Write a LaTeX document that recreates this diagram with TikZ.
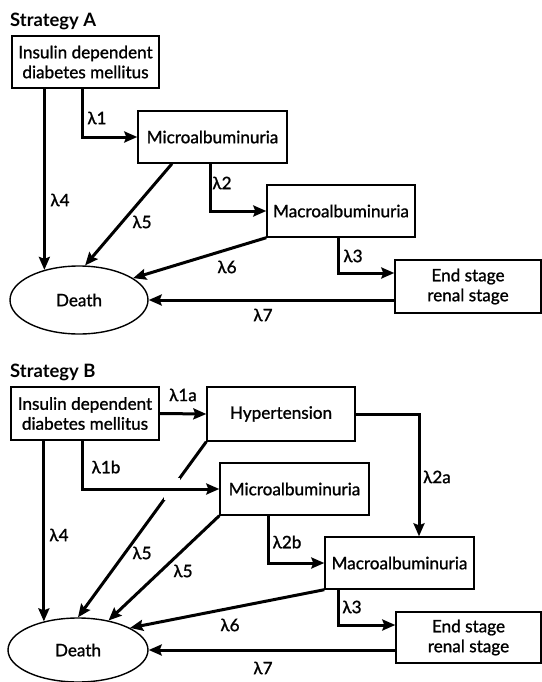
\documentclass[tikz,border=0pt]{standalone}
\usepackage{fontspec}
\setmainfont{Lato}
\newfontfamily\medfont{Lato}[FakeBold=1.2]
\usetikzlibrary{arrows.meta,shapes.geometric,intersections}
\begin{document}
\begin{tikzpicture}[x=1bp,y=-1bp,
  box/.style={draw,line width=1.4bp,inner sep=0pt,align=center,font=\medfont\fontsize{17.2}{20}\selectfont},
  deathnode/.style={draw,ellipse,line width=1.4bp,inner sep=0pt,font=\medfont\fontsize{17.2}{20}\selectfont},
  arr/.style={line width=3bp,-{Stealth[length=13bp,width=11bp,inset=2bp]}},
  lab/.style={font=\medfont\fontsize{17.2}{20}\selectfont,inner sep=0pt},
  ttl/.style={font=\bfseries\fontsize{18.5}{20}\selectfont,anchor=base west,inner sep=0pt}]
\useasboundingbox (0,0) rectangle (542,682);

% ---------------- Strategy A ----------------
\node[ttl] (ttlA) at (10,27) {Strategy A};
\node[box,minimum width=147bp,minimum height=52bp] (iddmA) at (85.5,62) {Insulin dependent\\diabetes mellitus};
\node[box,minimum width=149bp,minimum height=52bp] (microA) at (212.5,137) {Microalbuminuria};
\node[box,minimum width=148bp,minimum height=52bp] (macroA) at (341,211) {Macroalbuminuria};
\node[box,minimum width=146bp,minimum height=53bp] (esrdA) at (468,286.5) {End stage\\renal stage};
\node[deathnode,minimum width=138bp,minimum height=68bp] (deathA) at (79,300) {Death};

\coordinate (x1A) at (82,0);
\coordinate (x2A) at (210,0);
\coordinate (b3A) at (338,273);

\draw[arr] (iddmA.south -| x1A) |- (microA.west);
\draw[arr] (microA.south -| x2A) |- (macroA.west);
\draw[arr] (macroA.south -| b3A) -- (b3A) -- (b3A -| esrdA.west);
\draw[arr] (iddmA.south -| deathA.139) -- (deathA.139);
\draw[arr] ([xshift=-40.5bp]microA.south) -- (deathA.80);
\draw[arr] (macroA.south west) -- (deathA.22);
\draw[arr] (esrdA.west |- deathA.east) -- (deathA.east);

\node[lab] (l1A) at (97,118) {λ1};
\node[lab] (l2A) at (222,183) {λ2};
\node[lab] (l3A) at (353,256) {λ3};
\node[lab] (l4A) at (60,200) {λ4};
\node[lab] (l5A) at (142,222) {λ5};
\node[lab] (l6A) at (227,267) {λ6};
\node[lab] (l7A) at (263,315) {λ7};

% ---------------- Strategy B ----------------
\node[ttl] (ttlB) at (10,377) {Strategy B};
\node[box,minimum width=148bp,minimum height=53bp] (iddmB) at (85,413.5) {Insulin dependent\\diabetes mellitus};
\node[box,minimum width=148bp,minimum height=54bp] (hyperB) at (281,414) {Hypertension};
\node[box,minimum width=149bp,minimum height=52bp] (microB) at (294.5,489) {Microalbuminuria};
\node[box,minimum width=149bp,minimum height=52bp] (macroB) at (399.5,563) {Macroalbuminuria};
\node[box,minimum width=145bp,minimum height=51bp] (esrdB) at (468.5,637.5) {End stage\\renal stage};
\node[deathnode,minimum width=140bp,minimum height=64bp] (deathB) at (78,650) {Death};

\coordinate (x1b) at (82,0);
\coordinate (c2a) at (419,0);
\coordinate (x2b) at (268,0);
\coordinate (b3B) at (338,625);

\draw[arr] (iddmB.east) -- (hyperB.west);
\draw[arr] (hyperB.east) -| (c2a |- macroB.north);
\draw[arr] (microB.south -| x2b) |- (macroB.west);
\draw[arr] (macroB.south -| b3B) -- (b3B) -- (b3B -| esrdB.west);
\draw[arr] (iddmB.south -| deathB.140) -- (deathB.140);
\draw[arr] (hyperB.south west) -- (deathB.north);
\path[name path=p5] (hyperB.south west) -- (deathB.north);
\path[name path=p1b] (iddmB.south -| x1b) |- (microB.west);
\fill[white,name intersections={of=p5 and p1b}] ([shift={(-8,-11)}]intersection-1) rectangle ([shift={(8,11)}]intersection-1);
\draw[arr] (iddmB.south -| x1b) |- (microB.west);
\draw[arr] (microB.south west) -- (deathB.44);
\draw[arr] (macroB.south west) -- (deathB.23);
\draw[arr] (esrdB.west |- deathB.east) -- (deathB.east);

\node[lab] (l1aB) at (183,395) {λ1a};
\node[lab] (l1bB) at (106,467) {λ1b};
\node[lab] (l2aB) at (437,477) {λ2a};
\node[lab] (l2bB) at (287,542) {λ2b};
\node[lab] (l3B) at (352,607) {λ3};
\node[lab] (l4B) at (59,535) {λ4};
\node[lab] (l5aB) at (142,553) {λ5};
\node[lab] (l5bB) at (183,571) {λ5};
\node[lab] (l6B) at (230,625) {λ6};
\node[lab] (l7B) at (263,668) {λ7};
\end{tikzpicture}
\end{document}
